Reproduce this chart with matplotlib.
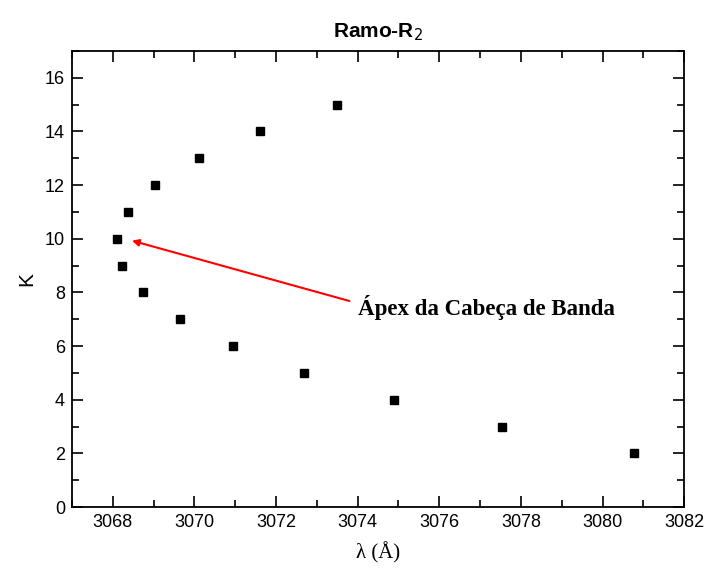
import matplotlib
matplotlib.use("Agg")
import matplotlib.pyplot as plt
from matplotlib.ticker import MultipleLocator

# Band head data: wavelength (Angstrom) vs rotational quantum number K
K = [2, 3, 4, 5, 6, 7, 8, 9, 10, 11, 12, 13, 14, 15]
wavelength = [3080.78, 3077.54, 3074.88, 3072.68, 3070.95, 3069.64, 3068.74,
              3068.22, 3068.10, 3068.37, 3069.03, 3070.12, 3071.60, 3073.50]

sans = ['Liberation Sans Narrow', 'Liberation Sans', 'DejaVu Sans']
serif = ['Liberation Serif', 'DejaVu Serif']

fig = plt.figure(figsize=(7.06, 5.70), dpi=100)
ax = fig.add_axes([0.102, 0.1105, 0.867, 0.8])

ax.plot(wavelength, K, 's', color='black', markersize=6.3, linestyle='none')

ax.set_xlim(3067, 3082)
ax.set_ylim(0, 17)
ax.xaxis.set_major_locator(MultipleLocator(2))
ax.xaxis.set_minor_locator(MultipleLocator(1))
ax.yaxis.set_major_locator(MultipleLocator(2))
ax.yaxis.set_minor_locator(MultipleLocator(1))
ax.tick_params(which='both', direction='in', top=True, right=True, width=1.2)
ax.tick_params(which='major', length=8, labelsize=13, pad=5)
ax.tick_params(which='minor', length=5)
for lab in ax.get_xticklabels() + ax.get_yticklabels():
    lab.set_family(sans)
for sp in ax.spines.values():
    sp.set_linewidth(1.3)

ax.set_title('Ramo-R$_2$', fontsize=15, fontweight='bold', family=sans, pad=10)
ax.set_ylabel('K', fontsize=15, family=sans, labelpad=6)
ax.set_xlabel('λ (Å)', fontsize=15, family=serif, labelpad=8)

ax.annotate('', xy=(3068.47, 9.93), xytext=(3073.8, 7.68),
            arrowprops=dict(arrowstyle='-|>', color='red', lw=1.5,
                            mutation_scale=10, shrinkA=0, shrinkB=0))
ax.text(3074.0, 7.45, 'Ápex da Cabeça de Banda', fontsize=16.5, fontweight='bold',
        family=serif, va='center', ha='left')

fig.savefig('out.png', dpi=100)
